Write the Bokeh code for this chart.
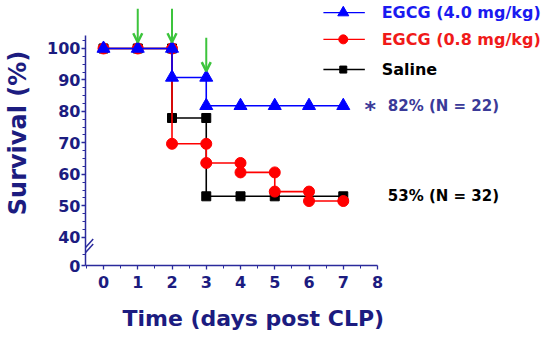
from bokeh.plotting import figure
from bokeh.models import Range1d, FixedTicker, Label, Arrow, OpenHead, Title
from bokeh.embed import file_html
from bokeh.resources import INLINE

# ---- data ----
days = [0, 1, 2, 3, 4, 5, 6, 7]
egcg_high = [100, 100, 90.8, 81.8, 81.8, 81.8, 81.8, 81.8]   # EGCG 4.0 mg/kg
egcg_low = [100, 100, 69.7, 63.6, 60.6, 54.5, 51.5, 51.5]    # EGCG 0.8 mg/kg
saline = [100, 100, 77.9, 53.0, 53.0, 53.0, 53.0, 53.0]      # Saline
saline_marker_days = [0, 1, 2, 3, 4, 5, 7]                   # day-6 marker hidden in the original
dose_days = [1, 2, 3]
x_ticks = [0, 1, 2, 3, 4, 5, 6, 7, 8]
y_ticks = [40, 50, 60, 70, 80, 90, 100]
y_zero_pos = 31          # where "0" sits on the broken axis
legend_labels = ["EGCG  (4.0 mg/kg)", "EGCG  (0.8 mg/kg)", "Saline"]
high_note = "82% (N = 22)"
saline_note = "53% (N = 32)"

FONT = "DejaVu Sans"
NAVY = "#1c1c80"
AXIS = "#2a2a9c"
BLUE = "#0000ff"
RED = "#ff0000"
BLACK = "#000000"
GREEN = "#3cc43c"


def steps(d, s, mdays=None):
    xs, ys = [d[0]], [s[0]]
    mx, my = [d[0]], [s[0]]
    for i in range(1, len(d)):
        xs += [d[i], d[i]]
        ys += [s[i - 1], s[i]]
        if mdays is not None and d[i] not in mdays:
            continue
        if s[i] != s[i - 1]:
            mx += [d[i], d[i]]
            my += [s[i - 1], s[i]]
        else:
            mx.append(d[i])
            my.append(s[i])
    return xs, ys, mx, my


p = figure(width=550, height=343,
           x_range=Range1d(-0.5255, 13.05), y_range=Range1d(y_zero_pos, 115.26),
           output_backend="svg", toolbar_location=None,
           min_border_left=85, min_border_right=0,
           min_border_top=0, min_border_bottom=78)
p.grid.visible = False
p.outline_line_color = None
p.background_fill_color = "white"
p.border_fill_color = "white"

# axes
xa = p.xaxis[0]
xa.ticker = FixedTicker(ticks=x_ticks, minor_ticks=[t + 0.5 for t in [-1] + x_ticks[:-1]])
xa.bounds = (-0.5255, 8)
ya = p.yaxis[0]
ya.ticker = FixedTicker(ticks=[y_zero_pos] + y_ticks,
                        minor_ticks=[34.5] + [t + k * 2.5 for t in y_ticks for k in (1, 2, 3)][:-2])
ya.bounds = (y_zero_pos, 104.1)
ya.major_label_overrides = {y_zero_pos: "0"}
ya.axis_label = "Survival (%)"

for ax in (xa, ya):
    ax.axis_line_color = AXIS
    ax.axis_line_width = 1.5
    ax.major_tick_line_color = AXIS
    ax.minor_tick_line_color = AXIS
    ax.major_tick_line_width = 1.3
    ax.minor_tick_line_width = 1
    ax.major_tick_out = 4
    ax.major_tick_in = 0
    ax.minor_tick_out = 3
    ax.minor_tick_in = 0
    ax.major_label_text_font = FONT
    ax.major_label_text_font_style = "bold"
    ax.major_label_text_color = NAVY
    ax.axis_label_text_font = FONT
    ax.axis_label_text_font_style = "bold"
    ax.axis_label_text_color = NAVY

xa.major_label_text_font_size = "16px"
xa.major_label_standoff = 6
ya.major_label_text_font_size = "16px"
ya.major_label_standoff = 1
ya.axis_label_text_font_size = "24px"
ya.axis_label_standoff = 12

# x-axis title, centred under the 0-8 day axis (not under the whole frame)
p.add_layout(Title(text="Time (days post CLP)", align="left", offset=37, standoff=26,
                   text_font=FONT, text_font_style="bold", text_font_size="22px",
                   text_color=NAVY), "below")

# survival curves (saline, low, high - high on top)
series = [
    (saline, BLACK, "square", 9, saline_marker_days),
    (egcg_low, RED, "circle", 11, None),
    (egcg_high, BLUE, "triangle", 13, None),
]
for vals, col, mk, sz, md in series:
    xs, ys, mx, my = steps(days, vals, md)
    p.line(xs, ys, line_color=col, line_width=1.6)
    p.scatter(mx, my, marker=mk, size=sz, fill_color=col, line_color=col)

# dosing arrows (green), pointing at the high-dose curve
for d in dose_days:
    tip = egcg_high[d - 1] + 2.0
    p.add_layout(Arrow(x_start=d, y_start=tip + 10.6, x_end=d, y_end=tip,
                       line_color=GREEN, line_width=2,
                       end=OpenHead(size=9, line_color=GREEN, line_width=2.5)))

# legend (manual so each label keeps its own colour)
leg_rows = [111.4, 102.9, 93.3]
leg_style = [(BLUE, "triangle", 11), (RED, "circle", 9), (BLACK, "square", 7)]
leg_text_col = ["#1a1af0", "#f01a1a", BLACK]
for yv, (col, mk, sz), lab, tc in zip(leg_rows, leg_style, legend_labels, leg_text_col):
    p.line([6.42, 7.63], [yv, yv], line_color=col, line_width=1.4)
    p.scatter([7.0], [yv], marker=mk, size=sz, fill_color=col, line_color=col)
    p.add_layout(Label(x=8.12, y=yv, text=lab, text_font=FONT, text_font_style="bold",
                       text_font_size="16px", text_color=tc, text_baseline="middle"))

# end-point notes
p.add_layout(Label(x=7.62, y=egcg_high[-1] - 1.2, text="*", text_font=FONT,
                   text_font_style="bold", text_font_size="22px", text_color="#3a3a98",
                   text_baseline="middle"))
p.add_layout(Label(x=8.3, y=egcg_high[-1], text=high_note, text_font=FONT,
                   text_font_style="bold", text_font_size="15px", text_color="#3a3a98",
                   text_baseline="middle"))
p.add_layout(Label(x=8.3, y=saline[-1], text=saline_note, text_font=FONT,
                   text_font_style="bold", text_font_size="15px", text_color=BLACK,
                   text_baseline="middle"))

# axis break marks
for off in (0.0, -1.6):
    p.add_layout(Arrow(x_start=-0.67, y_start=35.0 + off, x_end=-0.3, y_end=39.4 + off,
                       end=None, line_color=AXIS, line_width=1.5))

open("out.html", "w").write(file_html(p, INLINE))
